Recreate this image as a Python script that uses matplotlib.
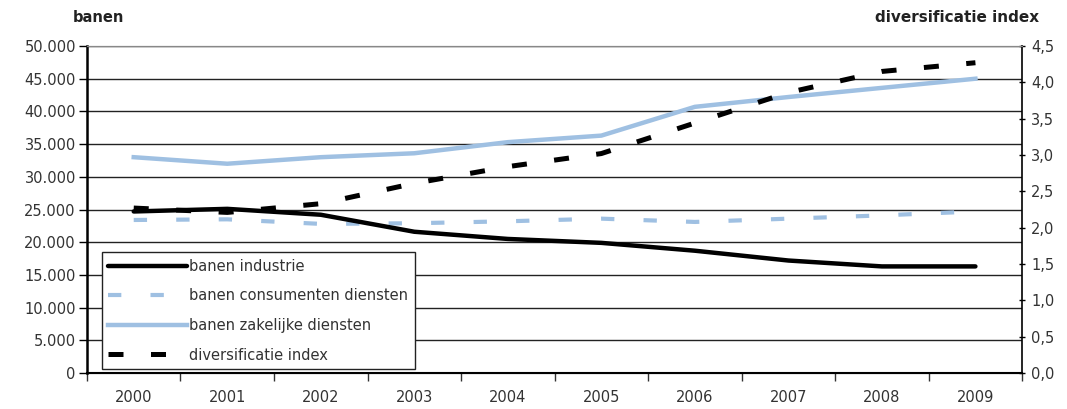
import matplotlib
matplotlib.use("Agg")
import matplotlib.pyplot as plt
from matplotlib.ticker import FuncFormatter

years = ["2000", "2001", "2002", "2003", "2004", "2005", "2006", "2007", "2008", "2009"]
industrie = [24700, 25100, 24200, 21600, 20500, 19900, 18700, 17200, 16300, 16300]
consumenten = [23400, 23500, 22800, 22900, 23200, 23600, 23100, 23600, 24100, 24700]
zakelijke = [33000, 32000, 33000, 33600, 35300, 36300, 40700, 42200, 43600, 45000]
diversificatie = [2.27, 2.21, 2.33, 2.61, 2.84, 3.02, 3.44, 3.86, 4.15, 4.27]

light_blue = "#9fc0e2"

fig = plt.figure(figsize=(10.67, 4.09), dpi=100)
ax = fig.add_axes([0.0815, 0.088, 0.8765, 0.7995])
ax2 = ax.twinx()

x = list(range(len(years)))
l1, = ax.plot(x, industrie, color="black", lw=3.2, solid_capstyle="round", zorder=4)
l2, = ax.plot(x, consumenten, color=light_blue, lw=3.0, dashes=(3.2, 7), zorder=3)
l3, = ax.plot(x, zakelijke, color=light_blue, lw=3.2, zorder=3)
l4, = ax2.plot(x, diversificatie, color="black", lw=3.6, dashes=(3, 5.5), zorder=5)

ax.set_xlim(-0.5, len(years) - 0.5)
ax.set_ylim(0, 50000)
ax2.set_ylim(0, 4.5)
ax.set_yticks(range(0, 50001, 5000))
ax2.set_yticks([i * 0.5 for i in range(10)])
ax.yaxis.set_major_formatter(FuncFormatter(lambda v, p: "0" if v == 0 else f"{int(v):,}".replace(",", ".")))
ax2.yaxis.set_major_formatter(FuncFormatter(lambda v, p: f"{v:.1f}".replace(".", ",")))

ax.set_xticks([i - 0.5 for i in range(len(years) + 1)])
ax.set_xticklabels([])
ax.set_xticks(x, minor=True)
ax.set_xticklabels(years, minor=True, fontsize=10.5, color="#333333")
ax.tick_params(axis="x", which="minor", length=0, pad=12)
ax.tick_params(axis="x", which="major", length=6, direction="out", width=1, color="#333333")

ax.tick_params(axis="y", length=6, direction="out", width=1, labelsize=10.5, labelcolor="#333333", pad=2)
ax2.tick_params(axis="y", length=5, direction="inout", width=1, labelsize=10.5, labelcolor="#333333", pad=4)

ax.grid(axis="y", color="#222222", lw=1.0)
ax.set_axisbelow(True)
for s in ["top"]:
    ax.spines[s].set_color("#888888")
    ax2.spines[s].set_color("#888888")
ax.spines["left"].set_linewidth(1.8)
ax2.spines["left"].set_visible(False)
ax2.spines["right"].set_linewidth(1.2)
ax.spines["right"].set_visible(False)
ax.spines["bottom"].set_linewidth(1.5)

fig.text(0.068, 0.945, "banen", fontsize=10.5, fontweight="bold", color="#222222")
fig.text(0.974, 0.945, "diversificatie index", fontsize=11, fontweight="bold", color="#222222", ha="right")

leg = ax2.legend([l1, l2, l3, l4],
                 ["banen industrie", "banen consumenten diensten", "banen zakelijke diensten", "diversificatie index"],
                 loc="lower left", bbox_to_anchor=(0.016, 0.012), fancybox=False, framealpha=1,
                 edgecolor="#222222", fontsize=10.5, handlelength=5.4, handletextpad=0.15,
                 labelspacing=1.0, borderpad=0.45, borderaxespad=0)
leg.get_frame().set_linewidth(1.0)
for t in leg.get_texts():
    t.set_color("#333333")

fig.savefig("out.png", dpi=100)
